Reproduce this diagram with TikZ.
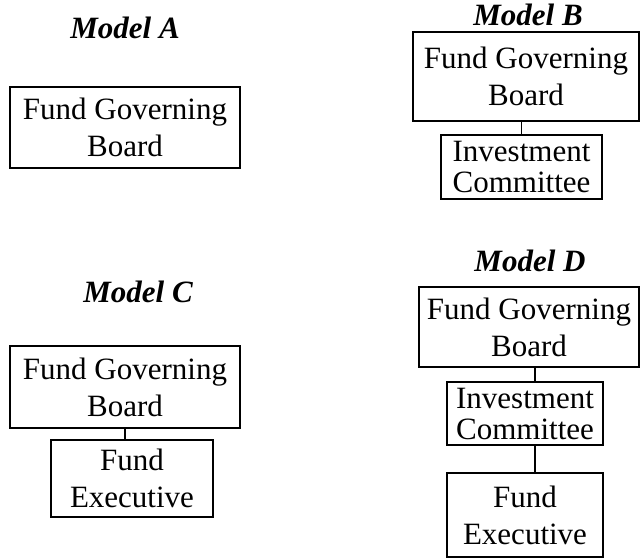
\documentclass[tikz,border=0pt]{standalone}
\usepackage{fontspec}
\setmainfont{Liberation Serif}
\begin{document}
\begin{tikzpicture}[x=1pt,y=-1pt,
  box/.style={draw,line width=1.5pt,align=center,inner sep=0pt,
    font=\fontsize{31}{37}\selectfont},
  tightbox/.style={box,font=\fontsize{31}{31}\selectfont},
  title/.style={font=\fontsize{31}{37}\selectfont\bfseries\itshape,inner sep=0pt,anchor=base},
  link/.style={line width=1.5pt}]
\useasboundingbox (0,0) rectangle (641,558);
% Model A
\node[title] (tA) at (125,38) {Model A};
\node[box,minimum width=230pt,minimum height=81pt] (aF) at (125,127.5) {Fund Governing\\Board};
% Model B
\node[title] (tB) at (528,25) {Model B};
\node[box,minimum width=226pt,minimum height=89pt] (bF) at (526,76.5) {Fund Governing\\Board};
\node[tightbox,minimum width=161pt,minimum height=64pt] (bI) at (521.5,167) {Investment\\Committee};
\draw[link] (bI.north) -- (bI.north |- bF.south);
% Model C
\node[title] (tC) at (138,302) {Model C};
\node[box,minimum width=230pt,minimum height=82pt] (cF) at (125,387) {Fund Governing\\Board};
\node[box,minimum width=162pt,minimum height=77pt] (cE) at (132,478.5) {Fund\\Executive};
\draw[link] (cF.south) -- (cF.south |- cE.north);
% Model D
\node[title] (tD) at (530,271) {Model D};
\node[box,minimum width=220pt,minimum height=80pt] (dF) at (529,327) {Fund Governing\\Board};
\node[tightbox,minimum width=156pt,minimum height=63pt] (dI) at (525,413.5) {Investment\\Committee};
\node[box,minimum width=156pt,minimum height=84pt] (dE) at (525,515) {Fund\\Executive};
\draw[link] ([xshift=10pt]dI.north) -- ([xshift=10pt]dI.north |- dF.south);
\draw[link] ([xshift=10pt]dI.south) -- ([xshift=10pt]dI.south |- dE.north);
\end{tikzpicture}
\end{document}
